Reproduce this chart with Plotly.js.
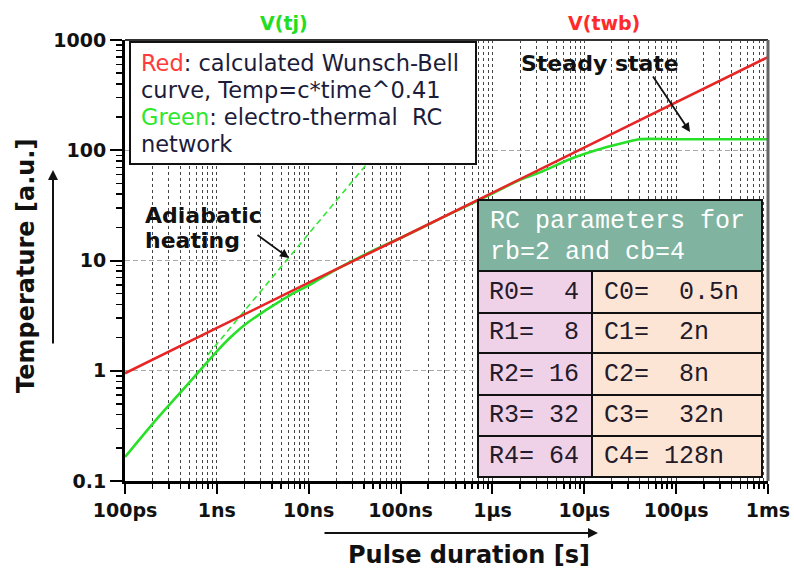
<!DOCTYPE html>
<html><head><meta charset="utf-8">
<script src="https://cdn.plot.ly/plotly-3.0.1.min.js"></script>
<style>html,body{margin:0;padding:0;background:#fff}#chart{width:794px;height:572px}</style>
</head><body><div id="chart"></div>
<script>
// ---- data ----
const redTime = [1e-10, 1e-9, 1e-8, 1e-7, 1e-6, 1e-5, 1e-4, 1e-3];
const redTemp = [0.95, 2.45, 6.3, 16, 41, 106, 272, 700];

const greenTime = [1e-10, 2e-10, 5e-10, 1e-9, 1.4e-9, 2e-9, 3e-9, 4e-9, 7e-9, 1e-8, 2e-8, 5e-8, 1e-7, 3e-7, 1e-6, 2e-6, 3.3e-6, 7.5e-6, 1.76e-5, 2.9e-5, 4e-5, 1e-4, 1e-3];
const greenTemp = [0.165, 0.33, 0.78, 1.5, 2.0, 2.6, 3.3, 3.85, 5.1, 5.95, 8.3, 12.3, 16, 25, 40.5, 54, 63, 85, 107, 119, 126, 126, 126];

const adiabaticTime = [8e-10, 1e-7];
const adiabaticTemp = [1.4, 175];

const xTickVals = [1e-10, 1e-9, 1e-8, 1e-7, 1e-6, 1e-5, 1e-4, 1e-3];
const xTickText = ['100ps', '1ns', '10ns', '100ns', '1µs', '10µs', '100µs', '1ms'];
const yTickVals = [0.1, 1, 10, 100, 1000];
const yTickText = ['0.1', '1', '10', '100', '1000'];

const legendLines = [
  "<span style='color:#ff3b3b'>Red</span>: calculated Wunsch-Bell",
  "curve, Temp=c*time^0.41",
  "<span style='color:#2ee82e'>Green</span>: electro-thermal  RC",
  "network"
];
const tableHeader = ['RC parameters for', 'rb=2 and cb=4'];
const rCells = ['R0=  4', 'R1=  8', 'R2= 16', 'R3= 32', 'R4= 64'];
const cCells = ['C0=  0.5n', 'C1=  2n', 'C2=  8n', 'C3=  32n', 'C4= 128n'];

// ---- helpers ----
const L = 125, R = 768, T = 40, B = 481;
const px = X => (X - L) / (R - L);
const py = Y => (B - Y) / (B - T);
const nb = s => s.replace(/  /g, '\u00a0\u00a0').replace(/= /g, '=\u00a0');

function minorVals(lo, hi) {
  const out = [];
  for (let d = lo; d < hi; d++) for (let k = 2; k <= 9; k++) out.push(k * Math.pow(10, d));
  return out;
}

const FONT = 'DejaVu Sans, Verdana, sans-serif';
const MONO = 'Liberation Mono, Courier New, monospace';

const traces = [
  {x: adiabaticTime, y: adiabaticTemp, mode: 'lines', line: {color: '#33e833', width: 1.6, dash: '6px,4px'}},
  {x: greenTime, y: greenTemp, mode: 'lines', line: {color: '#28e028', width: 2.6, shape: 'spline', smoothing: 0.8}},
  {x: redTime, y: redTemp, mode: 'lines', line: {color: '#e82525', width: 2.6}}
];

const shapes = [];
const annotations = [];
function txt(X, Y, text, font, anchor) {
  annotations.push({xref: 'paper', yref: 'paper', x: px(X), y: py(Y), xanchor: anchor || 'center', yanchor: 'middle',
    showarrow: false, text: text, font: font});
}
function arrow(X, Y, ax, ay, w) {
  annotations.push({xref: 'paper', yref: 'paper', x: px(X), y: py(Y), ax: ax, ay: ay, text: '', showarrow: true,
    arrowhead: 2, arrowsize: 1, arrowwidth: w, arrowcolor: '#111'});
}

// frame top/right
shapes.push({type: 'line', xref: 'paper', yref: 'paper', x0: 0, x1: 1, y0: 1, y1: 1, line: {color: '#333', width: 2}, layer: 'above'});
shapes.push({type: 'line', xref: 'paper', yref: 'paper', x0: 1, x1: 1, y0: 0, y1: 1, line: {color: '#666', width: 3}, layer: 'above'});

// legend box
shapes.push({type: 'rect', xref: 'paper', yref: 'paper', x0: px(130), x1: px(476), y0: py(164), y1: py(42),
  fillcolor: '#ffffff', line: {color: '#111', width: 2}, layer: 'above'});
const legendY = [63, 90, 117, 144];
legendLines.forEach((s, i) => txt(139, legendY[i], s.replace(/  /g, '\u00a0\u00a0'), {family: FONT, size: 22.5, color: '#1c1c3a'}, 'left'));

// table
const tx0 = 478, tx1 = 762, tcol = 592, tTop = 200, tHead = 271;
const rowEdges = [271, 313, 353, 395, 436, 477];
shapes.push({type: 'rect', xref: 'paper', yref: 'paper', x0: px(tx0), x1: px(tx1), y0: py(tHead), y1: py(tTop), fillcolor: '#80b4a0', line: {color: '#111', width: 2}, layer: 'above'});
const cellFont = {family: MONO, size: 25, color: '#231a2a'};
for (let i = 0; i < rCells.length; i++) {
  const y0 = rowEdges[i], y1 = rowEdges[i + 1];
  shapes.push({type: 'rect', xref: 'paper', yref: 'paper', x0: px(tx0), x1: px(tcol), y0: py(y1), y1: py(y0), fillcolor: '#f0d2e8', line: {color: '#111', width: 2}, layer: 'above'});
  shapes.push({type: 'rect', xref: 'paper', yref: 'paper', x0: px(tcol), x1: px(tx1), y0: py(y1), y1: py(y0), fillcolor: '#fde5d6', line: {color: '#111', width: 2}, layer: 'above'});
  const yc = (y0 + y1) / 2;
  txt(487, yc, nb(rCells[i]), cellFont, 'left');
  txt(602, yc, nb(cCells[i]), cellFont, 'left');
}
const headFont = {family: MONO, size: 25, color: '#ffffff'};
txt(488, 221, nb(tableHeader[0]), headFont, 'left');
txt(488, 252, nb(tableHeader[1]), headFont, 'left');

// top labels
txt(284, 23, 'V(tj)', {family: FONT, size: 19, color: '#22dd22', weight: 'bold'});
txt(604, 23, 'V(twb)', {family: FONT, size: 19, color: '#ff2a2a', weight: 'bold'});

// notes
const noteFont = {family: FONT, size: 22, color: '#111', weight: 'bold'};
txt(143, 216, 'Adiabatic', noteFont, 'left');
txt(143, 241, 'heating', noteFont, 'left');
arrow(289, 258, -33, -24, 1.8);
txt(600, 63, 'Steady state', noteFont);
arrow(690, 132, -38, -57, 1.8);

// axis titles and arrows
const titleFont = {family: FONT, size: 24, color: '#111', weight: 'bold'};
txt(469, 555, 'Pulse duration [s]', titleFont);
arrow(598, 533, -275, 0, 2);
annotations.push({xref: 'paper', yref: 'paper', x: px(26), y: py(266), xanchor: 'center', yanchor: 'middle', textangle: -90, showarrow: false,
  font: titleFont, text: 'Temperature [a.u.]'});
arrow(53, 170, 0, 175, 2);

const layout = {
  width: 794, height: 572,
  margin: {l: L, r: 794 - R, t: T, b: 572 - B, pad: 0},
  paper_bgcolor: '#fff', plot_bgcolor: '#fff',
  showlegend: false,
  xaxis: {
    type: 'log', range: [-10, -3], tickmode: 'array', tickvals: xTickVals, ticktext: xTickText,
    showline: true, linecolor: '#000', linewidth: 3, mirror: false, zeroline: false,
    ticks: 'outside', ticklen: 10, tickwidth: 2, tickcolor: '#000',
    tickfont: {family: FONT, size: 19, color: '#111', weight: 'bold'},
    showgrid: true, gridcolor: '#444', gridwidth: 1, griddash: '3px,3px',
    minor: {tickmode: 'array', tickvals: minorVals(-10, -3), ticks: 'outside', ticklen: 5, tickwidth: 1.5, tickcolor: '#000',
      showgrid: true, gridcolor: '#444', gridwidth: 1, griddash: '3px,3px'}
  },
  yaxis: {
    type: 'log', range: [-1, 3], tickmode: 'array', tickvals: yTickVals, ticktext: yTickText,
    showline: true, linecolor: '#000', linewidth: 3, mirror: false, zeroline: false,
    ticks: 'outside', ticklen: 12, tickwidth: 2, tickcolor: '#000',
    tickfont: {family: FONT, size: 19, color: '#111', weight: 'bold'},
    showgrid: true, gridcolor: '#aaa', gridwidth: 1, griddash: '5px,3px',
    minor: {tickmode: 'array', tickvals: minorVals(-1, 3), ticks: 'outside', ticklen: 6, tickwidth: 1.5, tickcolor: '#000', showgrid: false}
  },
  shapes: shapes,
  annotations: annotations
};

Plotly.newPlot('chart', traces, layout, {staticPlot: true, displayModeBar: false});
</script></body></html>
